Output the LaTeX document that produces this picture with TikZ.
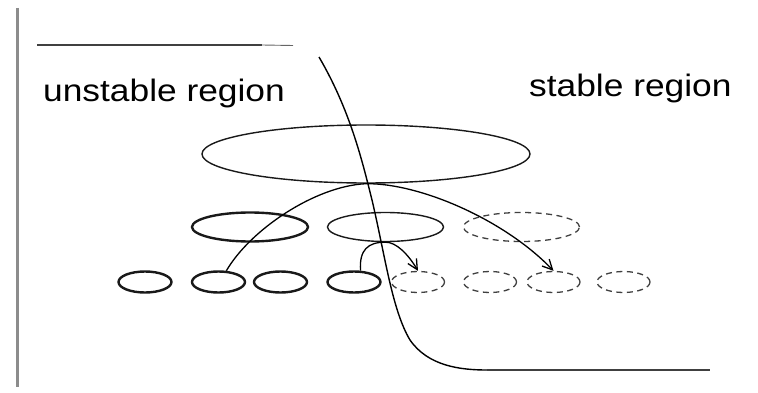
\documentclass[tikz,border=0pt]{standalone}
\usepackage{graphicx}
\usepackage{fontspec}
\setmainfont{Liberation Sans}
\usetikzlibrary{arrows.meta,shapes.geometric}
\begin{document}
\begin{tikzpicture}[x=1pt,y=-1pt,
  ell/.style={ellipse,inner sep=0pt,draw=black!90},
  cell/.style={ell,line width=1.4pt},
  thick cell/.style={ell,line width=2.4pt},
  ghost cell/.style={ell,line width=1.3pt,draw=black!75,dash pattern=on 6pt off 4.5pt},
  big/.style={minimum width=116pt,minimum height=29pt},
  small/.style={minimum width=53pt,minimum height=21pt},
  flow/.style={line width=1.3pt,draw=black,-{Straight Barb[length=10pt,width=10pt,line width=1.3pt]}},
  lbl/.style={anchor=base west,inner sep=0pt,font=\fontsize{31}{31}\selectfont}]
\useasboundingbox (0,0) rectangle (758,393);

% frame line on the left and the two level lines
\draw[line width=3pt,black!45] (17,8) -- (17,387);
\draw[line width=1.6pt,black!75] (37,45) -- (262,45);
\draw[line width=0.9pt,black!60] (262,45) -- (293,45.5);

% labels (the lettering is set slightly wide)
\node[lbl] (unst) at (43,102) {\scalebox{1.14}[1]{unstable region}};
\node[lbl] (st) at (529,97) {\scalebox{1.14}[1]{stable region}};

% parent cluster
\node[ell,line width=1.4pt,minimum width=328pt,minimum height=58pt] (top) at (366,154) {};

% middle row
\node[thick cell,big] (m1) at (250,227) {};
\node[cell,big] (m2) at (385.5,227) {};
\node[ghost cell,big] (m3) at (521.5,227) {};

% bottom row
\node[thick cell,small] (b1) at (145,282) {};
\node[thick cell,small] (b2) at (218.5,282) {};
\node[thick cell,small] (b3) at (280.5,282) {};
\node[thick cell,small] (b4) at (354,282) {};
\node[ghost cell,small] (b5) at (418,282) {};
\node[ghost cell,small] (b6) at (490,282) {};
\node[ghost cell,small] (b7) at (553.5,282) {};
\node[ghost cell,small] (b8) at (623.5,282) {};

% boundary between the regions
\draw[line width=1.4pt,black]
  (319,57) .. controls (350,110) and (362,160) .. (372,200)
  .. controls (385,255) and (392,310) .. (410,340)
  .. controls (428,366) and (460,370) .. (487,370);
\draw[line width=1.6pt,black!75] (487,370) -- (710,370);

% transitions
\coordinate (peak) at (top.south);
\draw[flow] (b2.55) .. controls (250,230) and (315,186) .. (peak)
  .. controls (420,183) and (505,220) .. (b7.north);
\draw[flow] (b4.60) .. controls (359,250) and (368,242) .. (m2.south)
  .. controls (396,242) and (408,254) .. (b5.north);
\end{tikzpicture}
\end{document}
